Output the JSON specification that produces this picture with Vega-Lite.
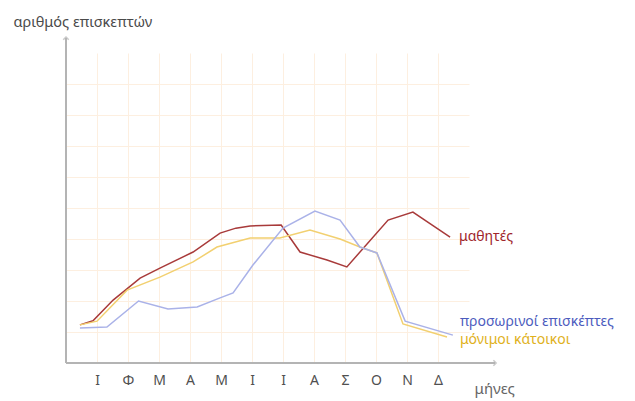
{
  "$schema": "https://vega.github.io/schema/vega-lite/v6.json",
  "width": 403,
  "height": 310,
  "autosize": "none",
  "padding": {"left": 66, "top": 53, "right": 166, "bottom": 38},
  "background": "white",
  "config": {"view": {"stroke": null}, "font": "Noto Sans"},
  "data": {"values": [
    {"series": "μαθητές", "month": 0.45, "visitors": 1.23},
    {"series": "μαθητές", "month": 0.87, "visitors": 1.36},
    {"series": "μαθητές", "month": 1.52, "visitors": 2.03},
    {"series": "μαθητές", "month": 2.39, "visitors": 2.74},
    {"series": "μαθητές", "month": 3.03, "visitors": 3.06},
    {"series": "μαθητές", "month": 4.10, "visitors": 3.58},
    {"series": "μαθητές", "month": 4.97, "visitors": 4.19},
    {"series": "μαθητές", "month": 5.48, "visitors": 4.35},
    {"series": "μαθητές", "month": 5.94, "visitors": 4.42},
    {"series": "μαθητές", "month": 6.94, "visitors": 4.45},
    {"series": "μαθητές", "month": 7.55, "visitors": 3.58},
    {"series": "μαθητές", "month": 8.42, "visitors": 3.32},
    {"series": "μαθητές", "month": 9.06, "visitors": 3.10},
    {"series": "μαθητές", "month": 10.39, "visitors": 4.61},
    {"series": "μαθητές", "month": 11.19, "visitors": 4.87},
    {"series": "μαθητές", "month": 12.39, "visitors": 4.06},
    {"series": "μόνιμοι κάτοικοι", "month": 0.45, "visitors": 1.23},
    {"series": "μόνιμοι κάτοικοι", "month": 1.0, "visitors": 1.35},
    {"series": "μόνιμοι κάτοικοι", "month": 1.97, "visitors": 2.35},
    {"series": "μόνιμοι κάτοικοι", "month": 3.03, "visitors": 2.77},
    {"series": "μόνιμοι κάτοικοι", "month": 4.10, "visitors": 3.26},
    {"series": "μόνιμοι κάτοικοι", "month": 4.87, "visitors": 3.74},
    {"series": "μόνιμοι κάτοικοι", "month": 5.94, "visitors": 4.03},
    {"series": "μόνιμοι κάτοικοι", "month": 6.90, "visitors": 4.03},
    {"series": "μόνιμοι κάτοικοι", "month": 7.87, "visitors": 4.29},
    {"series": "μόνιμοι κάτοικοι", "month": 8.84, "visitors": 4.0},
    {"series": "μόνιμοι κάτοικοι", "month": 9.48, "visitors": 3.74},
    {"series": "μόνιμοι κάτοικοι", "month": 10.03, "visitors": 3.55},
    {"series": "μόνιμοι κάτοικοι", "month": 10.87, "visitors": 1.26},
    {"series": "μόνιμοι κάτοικοι", "month": 12.29, "visitors": 0.84},
    {"series": "προσωρινοί επισκέπτες", "month": 0.45, "visitors": 1.13},
    {"series": "προσωρινοί επισκέπτες", "month": 1.32, "visitors": 1.16},
    {"series": "προσωρινοί επισκέπτες", "month": 2.34, "visitors": 2.0},
    {"series": "προσωρινοί επισκέπτες", "month": 3.29, "visitors": 1.74},
    {"series": "προσωρινοί επισκέπτες", "month": 4.23, "visitors": 1.81},
    {"series": "προσωρινοί επισκέπτες", "month": 4.97, "visitors": 2.10},
    {"series": "προσωρινοί επισκέπτες", "month": 5.39, "visitors": 2.26},
    {"series": "προσωρινοί επισκέπτες", "month": 6.03, "visitors": 3.16},
    {"series": "προσωρινοί επισκέπτες", "month": 7.0, "visitors": 4.35},
    {"series": "προσωρινοί επισκέπτες", "month": 8.03, "visitors": 4.90},
    {"series": "προσωρινοί επισκέπτες", "month": 8.84, "visitors": 4.61},
    {"series": "προσωρινοί επισκέπτες", "month": 9.48, "visitors": 3.74},
    {"series": "προσωρινοί επισκέπτες", "month": 10.03, "visitors": 3.55},
    {"series": "προσωρινοί επισκέπτες", "month": 10.94, "visitors": 1.35},
    {"series": "προσωρινοί επισκέπτες", "month": 12.48, "visitors": 0.90}
  ]},
  "layer": [
    {
      "data": {"values": [{}]},
      "mark": {"type": "rule", "color": "#b4b4b4", "strokeWidth": 2},
      "encoding": {
        "x": {"datum": 0, "type": "quantitative", "scale": {"domain": [0, 13], "nice": false, "zero": false},
          "axis": {"values": [1,2,3,4,5,6,7,8,9,10,11,12], "tickCount": 40, "labelExpr": "['Ι','Φ','Μ','Α','Μ','Ι','Ι','Α','Σ','Ο','Ν','Δ'][datum.value-1]",
            "labelOverlap": false, "labelBound": false, "labelFlush": false,
            "grid": true, "gridColor": "#fdefe0", "gridWidth": 1, "ticks": false, "domain": false,
            "labelFontSize": 14, "labelColor": "#505050", "labelPadding": 10, "labelFont": "Noto Sans",
            "title": "μήνες", "titleFontSize": 15, "titleFontWeight": "normal", "titleColor": "#666666",
            "titleAnchor": "start", "titleAlign": "left", "titleBaseline": "middle", "titleX": 408, "titleY": 25}},
        "y": {"datum": 0, "type": "quantitative", "scale": {"domain": [0, 10], "nice": false, "zero": false},
          "axis": {"values": [1,2,3,4,5,6,7,8,9], "tickCount": 40, "labels": false, "ticks": false, "domain": false,
            "grid": true, "gridColor": "#fdefe0", "gridWidth": 1,
            "title": "αριθμός επισκεπτών", "titleAngle": 0, "titleFontSize": 14.5, "titleFontWeight": "normal",
            "titleColor": "#4a4a4a", "titleAlign": "left", "titleBaseline": "middle", "titleX": -53, "titleY": -31}},
        "y2": {"datum": 10.48}
      }
    },
    {
      "data": {"values": [{}]},
      "mark": {"type": "rule", "color": "#b4b4b4", "strokeWidth": 2},
      "encoding": {
        "x": {"datum": 0, "type": "quantitative"},
        "x2": {"datum": 13.84},
        "y": {"datum": 0, "type": "quantitative"}
      }
    },
    {
      "data": {"values": [{}]},
      "mark": {"type": "point", "shape": "M -1 0.6 L 0 -0.4 L 1 0.6", "filled": false, "color": "#b4b4b4", "strokeWidth": 1.5, "size": 30},
      "encoding": {"x": {"datum": 0, "type": "quantitative"}, "y": {"datum": 10.48, "type": "quantitative"}}
    },
    {
      "data": {"values": [{}]},
      "mark": {"type": "point", "shape": "M -0.6 -1 L 0.4 0 L -0.6 1", "filled": false, "color": "#b4b4b4", "strokeWidth": 1.5, "size": 30},
      "encoding": {"x": {"datum": 13.84, "type": "quantitative"}, "y": {"datum": 0, "type": "quantitative"}}
    },
    {
      "mark": {"type": "line", "strokeWidth": 1.5},
      "encoding": {
        "x": {"field": "month", "type": "quantitative"},
        "y": {"field": "visitors", "type": "quantitative"},
        "color": {"field": "series", "type": "nominal", "legend": null,
          "scale": {"domain": ["μόνιμοι κάτοικοι", "προσωρινοί επισκέπτες", "μαθητές"], "range": ["#f2d070", "#aab2e8", "#a83a3a"]}},
        "order": {"field": "month", "type": "quantitative"}
      }
    },
    {
      "transform": [{"filter": "datum.series == 'μαθητές'"}, {"joinaggregate": [{"op": "max", "field": "month", "as": "last"}]}, {"filter": "datum.month == datum.last"}],
      "mark": {"type": "text", "align": "left", "baseline": "middle", "dx": 9, "dy": 0, "fontSize": 14, "color": "#a0262c"},
      "encoding": {"x": {"field": "month", "type": "quantitative"}, "y": {"field": "visitors", "type": "quantitative"}, "text": {"field": "series"}}
    },
    {
      "transform": [{"filter": "datum.series == 'προσωρινοί επισκέπτες'"}, {"joinaggregate": [{"op": "max", "field": "month", "as": "last"}]}, {"filter": "datum.month == datum.last"}],
      "mark": {"type": "text", "align": "left", "baseline": "middle", "dx": 7, "dy": -13, "fontSize": 14, "color": "#4c5cbe"},
      "encoding": {"x": {"field": "month", "type": "quantitative"}, "y": {"field": "visitors", "type": "quantitative"}, "text": {"field": "series"}}
    },
    {
      "transform": [{"filter": "datum.series == 'μόνιμοι κάτοικοι'"}, {"joinaggregate": [{"op": "max", "field": "month", "as": "last"}]}, {"filter": "datum.month == datum.last"}],
      "mark": {"type": "text", "align": "left", "baseline": "middle", "dx": 13, "dy": 3, "fontSize": 14, "color": "#e0b11c"},
      "encoding": {"x": {"field": "month", "type": "quantitative"}, "y": {"field": "visitors", "type": "quantitative"}, "text": {"field": "series"}}
    }
  ]
}
